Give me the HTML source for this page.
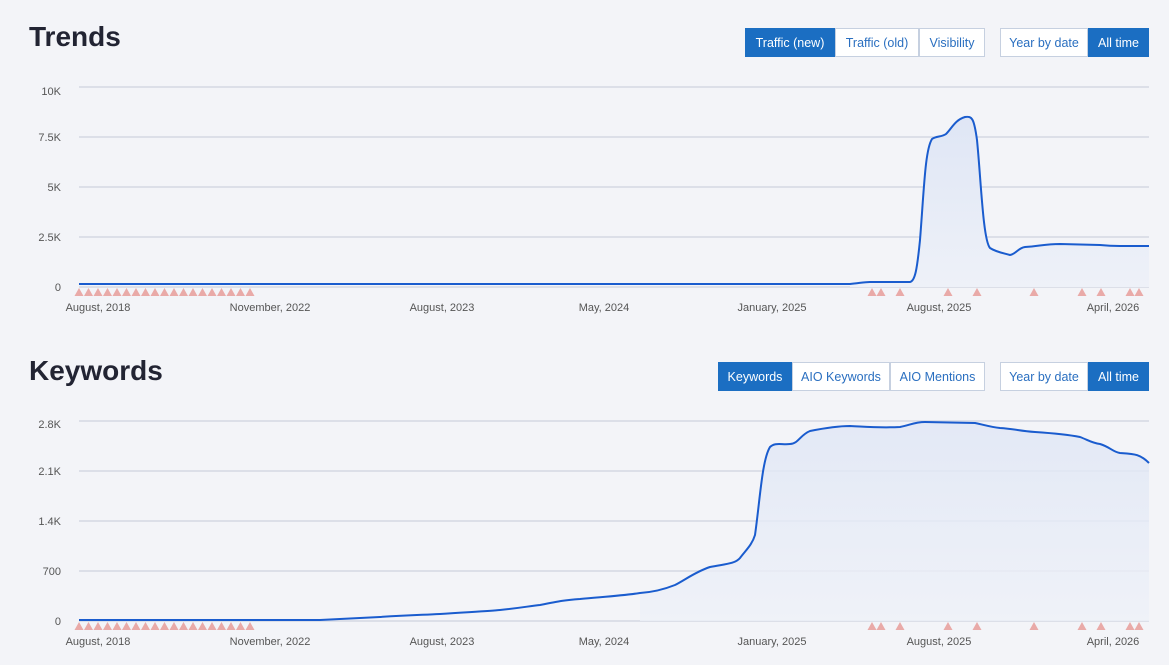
<!DOCTYPE html>
<html><head><meta charset="utf-8"><style>
body{margin:0;background:#f3f4f8;font-family:"Liberation Sans",sans-serif;width:1169px;height:665px;overflow:hidden;position:relative}
h2{position:absolute;margin:0;font-size:28px;font-weight:bold;color:#222433;left:29px}
.b{position:absolute;height:29px;line-height:29px;font-size:12.5px;text-align:center;box-sizing:border-box;border:1px solid #c6d0e0;background:#fff;color:#2a6fc0}
.a{background:#1b6ec2;color:#fff;border-color:#1b6ec2}
svg{position:absolute;left:0;top:0}
</style></head><body>
<h2 style="top:21px">Trends</h2>
<h2 style="top:355px">Keywords</h2>
<div class="b a" style="left:745px;top:28px;width:90px">Traffic (new)</div>
<div class="b" style="left:835px;top:28px;width:84px">Traffic (old)</div>
<div class="b" style="left:919px;top:28px;width:66px">Visibility</div>
<div class="b" style="left:1000px;top:28px;width:88px">Year by date</div>
<div class="b a" style="left:1088px;top:28px;width:61px">All time</div>
<div class="b a" style="left:718px;top:362px;width:74px">Keywords</div>
<div class="b" style="left:792px;top:362px;width:98px">AIO Keywords</div>
<div class="b" style="left:890px;top:362px;width:95px">AIO Mentions</div>
<div class="b" style="left:1000px;top:362px;width:88px">Year by date</div>
<div class="b a" style="left:1088px;top:362px;width:61px">All time</div>
<svg width="1169" height="665" font-family="Liberation Sans,sans-serif" font-size="11" fill="#555">
<defs><linearGradient id="g" x1="0" y1="0" x2="0" y2="1"><stop offset="0" stop-color="#dfe6f5"/><stop offset="1" stop-color="#eef1f8"/></linearGradient>
<polygon id="t" points="-4.5,4 4.5,4 0,-4" fill="#e9aaa8"/></defs>
<g stroke="#dcdfe8" stroke-width="2">
<line x1="79" x2="1149" y1="87" y2="87"/><line x1="79" x2="1149" y1="137" y2="137"/><line x1="79" x2="1149" y1="187" y2="187"/><line x1="79" x2="1149" y1="237" y2="237"/><line x1="79" x2="1149" y1="287" y2="287"/>
<line x1="79" x2="1149" y1="421" y2="421"/><line x1="79" x2="1149" y1="471" y2="471"/><line x1="79" x2="1149" y1="521" y2="521"/><line x1="79" x2="1149" y1="571" y2="571"/><line x1="79" x2="1149" y1="621" y2="621"/>
</g>
<g text-anchor="end">
<text x="61" y="95">10K</text><text x="61" y="141">7.5K</text><text x="61" y="191">5K</text><text x="61" y="241">2.5K</text><text x="61" y="291">0</text>
<text x="61" y="428">2.8K</text><text x="61" y="475">2.1K</text><text x="61" y="525">1.4K</text><text x="61" y="575">700</text><text x="61" y="625">0</text>
</g>
<g text-anchor="middle">
<text x="98" y="311">August, 2018</text><text x="270" y="311">November, 2022</text><text x="442" y="311">August, 2023</text><text x="604" y="311">May, 2024</text><text x="772" y="311">January, 2025</text><text x="939" y="311">August, 2025</text><text x="1113" y="311">April, 2026</text>
<text x="98" y="645">August, 2018</text><text x="270" y="645">November, 2022</text><text x="442" y="645">August, 2023</text><text x="604" y="645">May, 2024</text><text x="772" y="645">January, 2025</text><text x="939" y="645">August, 2025</text><text x="1113" y="645">April, 2026</text>
</g>
<path d="M850,284 C860,283 865,282 870,282 L910,282 C915,281 917,270 920,240 C924,190 925,150 932,139 C936,136 942,137 946,134 C952,128 955,120 965,117 C972,116 974,118 977,140 C981,180 983,240 990,248 C996,252 1003,253 1010,255 C1016,254 1018,248 1025,247 C1040,246 1045,244 1060,244 L1100,245 C1110,246 1113,246 1120,246 L1149,246 L1149,287 L850,287Z" fill="url(#g)"/>
<path d="M79,284 L850,284 C860,283 865,282 870,282 L910,282 C915,281 917,270 920,240 C924,190 925,150 932,139 C936,136 942,137 946,134 C952,128 955,120 965,117 C972,116 974,118 977,140 C981,180 983,240 990,248 C996,252 1003,253 1010,255 C1016,254 1018,248 1025,247 C1040,246 1045,244 1060,244 L1100,245 C1110,246 1113,246 1120,246 L1149,246" fill="none" stroke="#1a5cce" stroke-width="2"/>
<path d="M640,621 L640,593 C655,592 665,589 675,585 C685,580 695,572 710,567 C725,564 735,564 740,558 C746,550 752,545 755,535 C760,500 762,460 770,447 C775,442 782,445 790,444 C798,444 800,435 810,431 C825,428 840,426 850,426 C870,427 880,428 900,427 C910,425 915,422 925,422 L975,423 C985,425 990,427 1000,428 C1015,429 1020,431 1035,432 C1050,433 1065,434 1080,437 C1088,440 1092,443 1100,444 C1110,447 1113,452 1120,453 C1135,454 1140,454 1149,463 L1149,621Z" fill="url(#g)" opacity="0.8"/>
<path d="M79,620 L320,620 C340,619 360,618 380,617 C410,615 420,615 440,614 C470,612 490,611 500,610 C520,608 530,606 540,605 C560,601 565,600 580,599 C600,597 620,596 640,593 C655,592 665,589 675,585 C685,580 695,572 710,567 C725,564 735,564 740,558 C746,550 752,545 755,535 C760,500 762,460 770,447 C775,442 782,445 790,444 C798,444 800,435 810,431 C825,428 840,426 850,426 C870,427 880,428 900,427 C910,425 915,422 925,422 L975,423 C985,425 990,427 1000,428 C1015,429 1020,431 1035,432 C1050,433 1065,434 1080,437 C1088,440 1092,443 1100,444 C1110,447 1113,452 1120,453 C1135,454 1140,454 1149,463" fill="none" stroke="#1a5cce" stroke-width="2"/>
<g id="tr">
<use href="#t" x="79" y="292"/><use href="#t" x="88.5" y="292"/><use href="#t" x="98" y="292"/><use href="#t" x="107.5" y="292"/><use href="#t" x="117" y="292"/><use href="#t" x="126.5" y="292"/><use href="#t" x="136" y="292"/><use href="#t" x="145.5" y="292"/><use href="#t" x="155" y="292"/><use href="#t" x="164.5" y="292"/><use href="#t" x="174" y="292"/><use href="#t" x="183.5" y="292"/><use href="#t" x="193" y="292"/><use href="#t" x="202.5" y="292"/><use href="#t" x="212" y="292"/><use href="#t" x="221.5" y="292"/><use href="#t" x="231" y="292"/><use href="#t" x="240.5" y="292"/><use href="#t" x="250" y="292"/>
<use href="#t" x="872" y="292"/><use href="#t" x="881" y="292"/><use href="#t" x="900" y="292"/><use href="#t" x="948" y="292"/><use href="#t" x="977" y="292"/><use href="#t" x="1034" y="292"/><use href="#t" x="1082" y="292"/><use href="#t" x="1101" y="292"/><use href="#t" x="1130" y="292"/><use href="#t" x="1139" y="292"/>
</g>
<use href="#tr" y="334"/>
</svg>
</body></html>
